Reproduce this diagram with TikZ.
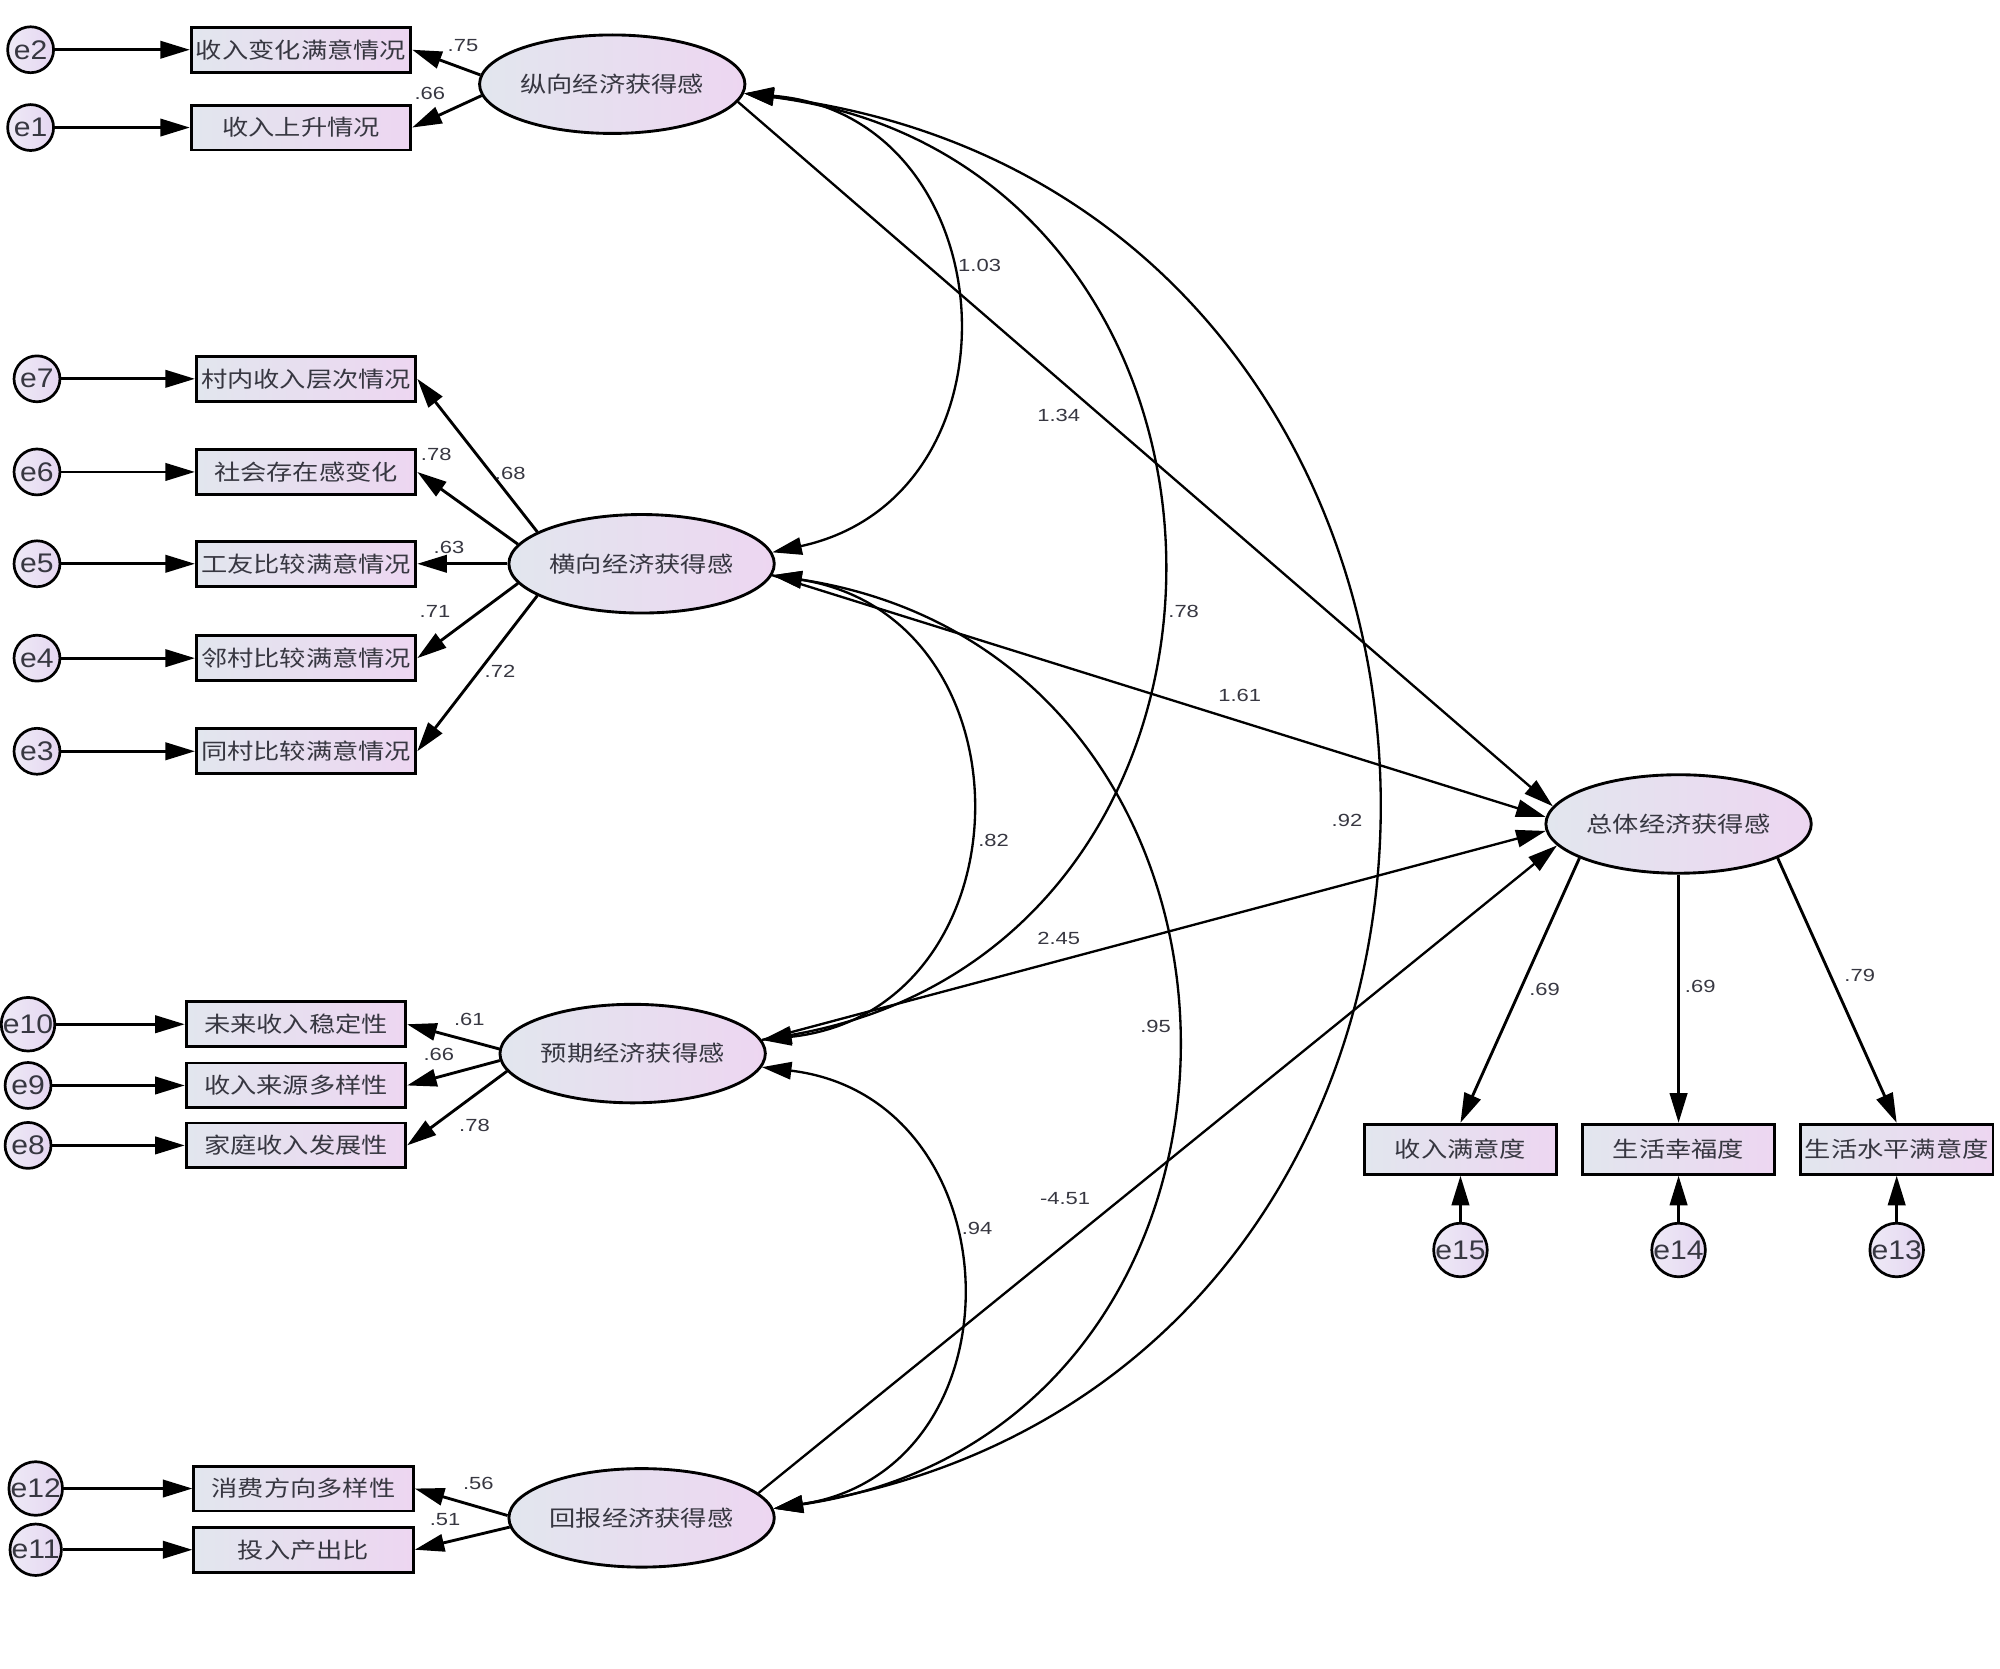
\documentclass[tikz,border=0pt]{standalone}
\usepackage{fontspec}
\setmainfont{Liberation Sans}
\newfontfamily\cjk{Noto Sans CJK SC}
\usepackage{graphicx}
\usetikzlibrary{arrows.meta,shapes.geometric}
\definecolor{boxl}{RGB}{226,230,238}
\definecolor{boxr}{RGB}{237,214,241}
\definecolor{errl}{RGB}{238,234,246}
\definecolor{errr}{RGB}{229,214,241}
\definecolor{txt}{RGB}{55,55,65}
\newcommand{\hz}[1]{\scalebox{1.2}[1]{\cjk #1}}
\newcommand{\nm}[1]{\scalebox{1.25}[1]{#1}}
\newcommand{\ee}[1]{\scalebox{1.12}[1]{#1}}

\begin{document}
\begin{tikzpicture}[x=0.025cm,y=-0.025cm,
  obs/.style={draw,line width=1.6pt,minimum width=43mm,minimum height=8.8mm,inner sep=0pt,
    left color=boxl,right color=boxr,text=txt,font=\fontsize{12.2}{12.2}\selectfont},
  obsr/.style={obs,minimum width=37.75mm,minimum height=9.8mm},
  lat/.style={ellipse,draw,line width=1.6pt,minimum width=52mm,minimum height=19.3mm,inner sep=0pt,
    left color=boxl,right color=boxr,text=txt,font=\fontsize{12.2}{12.2}\selectfont},
  err/.style={circle,draw,line width=1.5pt,minimum size=9mm,inner sep=0pt,
    left color=errl,right color=errr,text=txt,font=\fontsize{15}{15}\selectfont},
  num/.style={text=txt,inner sep=1pt,font=\fontsize{9.8}{9.8}\selectfont},
  load/.style={-{Triangle[length=5.8mm,width=3.4mm]},line width=1.6pt},
  reg/.style={-{Triangle[length=5.8mm,width=3.4mm]},line width=1.3pt},
  cov/.style={{Triangle[length=5.8mm,width=3.4mm]}-{Triangle[length=5.8mm,width=3.4mm]},line width=1.3pt}]
\useasboundingbox (0,0) rectangle (1568,1308);

% latent variables
\node[lat] (zong) at (480,66) {\hz{纵向经济获得感}};
\node[lat] (heng) at (503,442) {\hz{横向经济获得感}};
\node[lat] (yuqi) at (496,826) {\hz{预期经济获得感}};
\node[lat] (huib) at (503,1190) {\hz{回报经济获得感}};
\node[lat] (zongti) at (1316,646) {\hz{总体经济获得感}};

% observed variables
\node[obs] (v2) at (236,39) {\hz{收入变化满意情况}};
\node[obs] (v1) at (236,100) {\hz{收入上升情况}};
\node[obs] (v7) at (240,297) {\hz{村内收入层次情况}};
\node[obs] (v6) at (240,370) {\hz{社会存在感变化}};
\node[obs] (v5) at (240,442) {\hz{工友比较满意情况}};
\node[obs] (v4) at (240,516) {\hz{邻村比较满意情况}};
\node[obs] (v3) at (240,589) {\hz{同村比较满意情况}};
\node[obs] (v10) at (232,803) {\hz{未来收入稳定性}};
\node[obs] (v9) at (232,851) {\hz{收入来源多样性}};
\node[obs] (v8) at (232,898) {\hz{家庭收入发展性}};
\node[obs] (v12) at (238,1167) {\hz{消费方向多样性}};
\node[obs] (v11) at (238,1215) {\hz{投入产出比}};
\node[obsr] (v15) at (1145,901) {\hz{收入满意度}};
\node[obsr] (v14) at (1316,901) {\hz{生活幸福度}};
\node[obsr] (v13) at (1487,901) {\hz{生活水平满意度}};

% errors
\node[err] (e2) at (24,39) {\ee{e2}};
\node[err] (e1) at (24,100) {\ee{e1}};
\node[err] (e7) at (29,297) {\ee{e7}};
\node[err] (e6) at (29,370) {\ee{e6}};
\node[err] (e5) at (29,442) {\ee{e5}};
\node[err] (e4) at (29,516) {\ee{e4}};
\node[err] (e3) at (29,589) {\ee{e3}};
\node[err] (e10) at (22,803) {\ee{e10}};
\node[err] (e9) at (22,851) {\ee{e9}};
\node[err] (e8) at (22,898) {\ee{e8}};
\node[err] (e12) at (28,1167) {\ee{e12}};
\node[err] (e11) at (28,1215) {\ee{e11}};
\node[err] (e15) at (1145,980) {\ee{e15}};
\node[err] (e14) at (1316,980) {\ee{e14}};
\node[err] (e13) at (1487,980) {\ee{e13}};

\draw[load] (e2) -- (v2);
\draw[load] (e1) -- (v1);
\draw[load] (e7) -- (v7);
\draw[load] (e6) -- (v6);
\draw[load] (e5) -- (v5);
\draw[load] (e4) -- (v4);
\draw[load] (e3) -- (v3);
\draw[load] (e10) -- (v10);
\draw[load] (e9) -- (v9);
\draw[load] (e8) -- (v8);
\draw[load] (e12) -- (v12);
\draw[load] (e11) -- (v11);
\draw[load] (e15) -- (v15);
\draw[load] (e14) -- (v14);
\draw[load] (e13) -- (v13);

% loadings
\draw[load] (zong.176) -- (v2.east);
\draw[load] (zong.185) -- (v1.east);
\draw[load] (heng.163) -- (v7.east);
\draw[load] (heng.171) -- (v6.east);
\draw[load] (heng.180) -- (v5.east);
\draw[load] (heng.189) -- (v4.east);
\draw[load] (heng.197) -- (v3.east);
\draw[load] (yuqi.178) -- (v10.east);
\draw[load] (yuqi.183) -- (v9.east);
\draw[load] (yuqi.188) -- (v8.east);
\draw[load] (huib.179) -- (v12.east);
\draw[load] (huib.184) -- (v11.east);
\draw[load] (zongti.199) -- (v15.north);
\draw[load] (zongti.south) -- (v14.north);
\draw[load] (zongti.-19) -- (v13.north);

% paths and covariances
\draw[reg] (zong.-8) -- (zongti.172);
\draw[reg] (heng.-5) -- (zongti.177);
\draw[reg] (yuqi.6) -- (zongti.-177);
\draw[reg] (huib.12) -- (zongti.-170);
\draw[cov] (zong.-4) .. controls +(207,17) and +(203,-44) .. (heng.5);
\draw[cov] (zong.-4) .. controls +(426,55) and +(423,-73) .. (yuqi.6);
\draw[cov] (zong.-4) .. controls +(644,79) and +(641,-104) .. (huib.4);
\draw[cov] (heng.-5) .. controls +(209,33) and +(211,-23) .. (yuqi.6);
\draw[cov] (heng.-5) .. controls +(419,64) and +(419,-62) .. (huib.4);
\draw[cov] (yuqi.-6) .. controls +(200,24) and +(199,-31) .. (huib.4);

\node[num] (n1) at (363,36) {\nm{.75}};
\node[num] (n2) at (337,73) {\nm{.66}};
\node[num] (n3) at (342,356) {\nm{.78}};
\node[num] (n4) at (400,371) {\nm{.68}};
\node[num] (n5) at (352,429) {\nm{.63}};
\node[num] (n6) at (341,479) {\nm{.71}};
\node[num] (n7) at (392,526) {\nm{.72}};
\node[num] (n8) at (368,799) {\nm{.61}};
\node[num] (n9) at (344,827) {\nm{.66}};
\node[num] (n10) at (372,882) {\nm{.78}};
\node[num] (n11) at (375,1163) {\nm{.56}};
\node[num] (n12) at (349,1191) {\nm{.51}};
\node[num] (n13) at (1211,776) {\nm{.69}};
\node[num] (n14) at (1333,773) {\nm{.69}};
\node[num] (n15) at (1458,765) {\nm{.79}};
\node[num] (c1) at (768,208) {\nm{1.03}};
\node[num] (c2) at (830,326) {\nm{1.34}};
\node[num] (c3) at (928,479) {\nm{.78}};
\node[num] (c4) at (972,545) {\nm{1.61}};
\node[num] (c5) at (779,659) {\nm{.82}};
\node[num] (c6) at (1056,643) {\nm{.92}};
\node[num] (c7) at (830,736) {\nm{2.45}};
\node[num] (c8) at (906,805) {\nm{.95}};
\node[num] (c9) at (835,940) {\nm{-4.51}};
\node[num] (c10) at (766,963) {\nm{.94}};
\end{tikzpicture}
\end{document}
